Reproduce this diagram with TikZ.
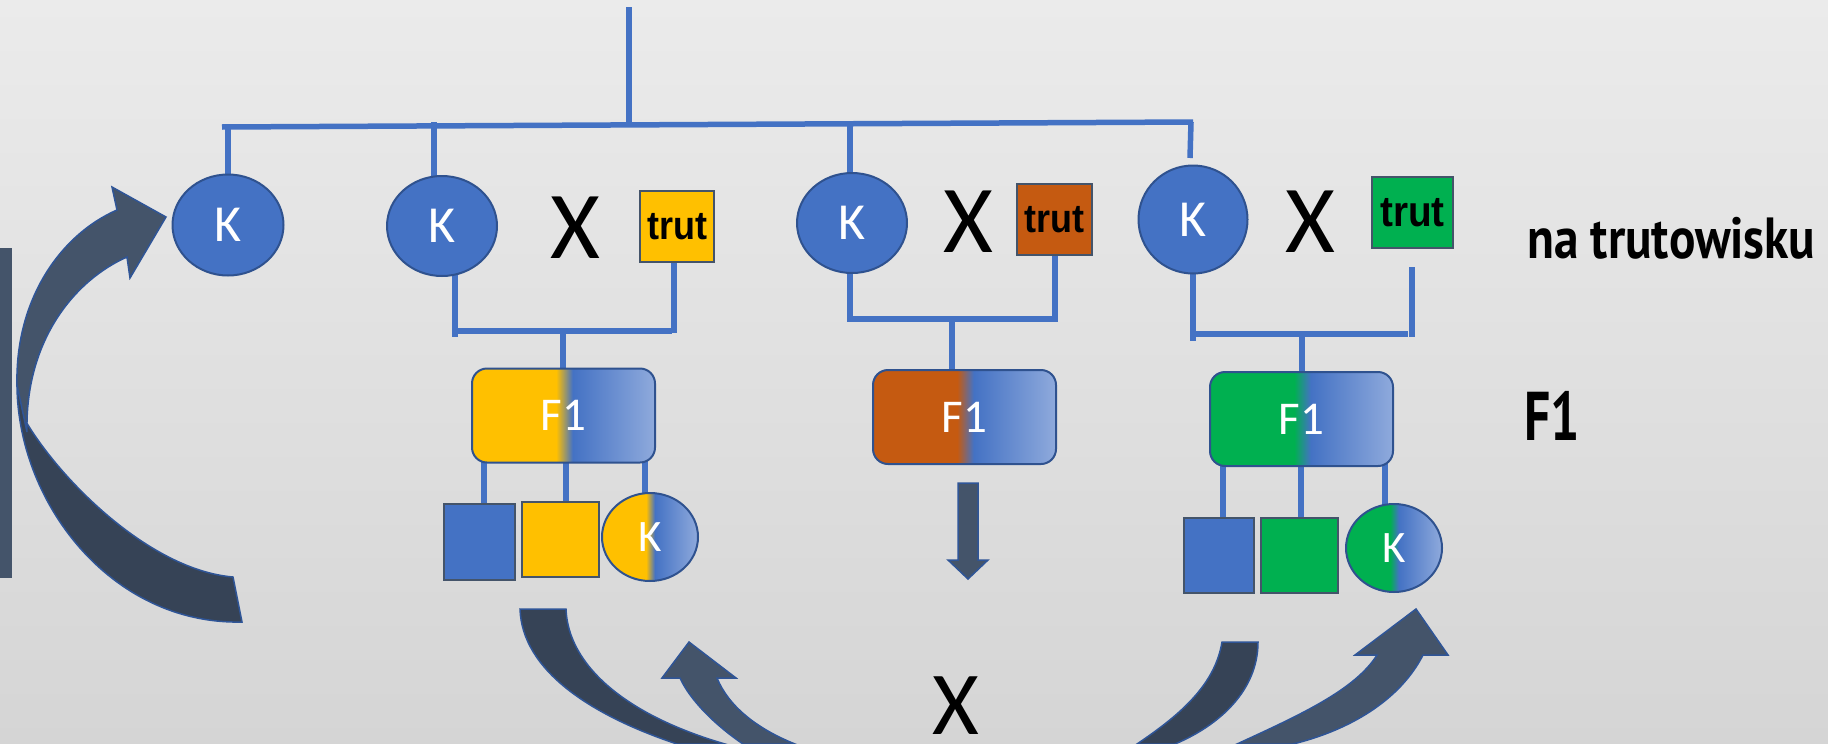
\documentclass[tikz,border=0pt]{standalone}
\usepackage{fontspec}
\setmainfont{Carlito}
\newfontfamily\trutfont[FakeStretch=0.9]{Liberation Sans}
\newfontfamily\dinfont[FakeStretch=0.85]{PT Sans}
\newfontfamily\dinfontF[FakeStretch=0.75]{PT Sans}
\usetikzlibrary{shapes.geometric}
\definecolor{mblue}{HTML}{4472C4}
\definecolor{edgeblue}{HTML}{2F528F}
\definecolor{sqedge}{HTML}{44546A}
\definecolor{cY}{HTML}{FFC000}
\definecolor{cBr}{HTML}{C55A11}
\definecolor{cG}{HTML}{00B050}
\definecolor{cL}{HTML}{8FAADC}
\definecolor{arrowcol}{HTML}{44546A}
\definecolor{darkband}{HTML}{364356}
\definecolor{arrowedge}{HTML}{2F5597}
\definecolor{bgtop}{HTML}{EBEBEB}
\definecolor{bgbot}{HTML}{D5D5D5}
\pgfdeclarelayer{bglayer}
\pgfdeclarelayer{connlayer}
\pgfsetlayers{bglayer,connlayer,main}
\pgfdeclarehorizontalshading{shY}{100bp}{color(0bp)=(cY); color(48bp)=(cY); color(52.5bp)=(mblue); color(75bp)=(cL); color(100bp)=(cL)}
\pgfdeclarehorizontalshading{shBr}{100bp}{color(0bp)=(cBr); color(48bp)=(cBr); color(52.5bp)=(mblue); color(75bp)=(cL); color(100bp)=(cL)}
\pgfdeclarehorizontalshading{shG}{100bp}{color(0bp)=(cG); color(48bp)=(cG); color(52.5bp)=(mblue); color(75bp)=(cL); color(100bp)=(cL)}
\begin{document}
\begin{tikzpicture}[x=1pt,y=-1pt,
  conn/.style={draw=mblue, line width=5.5pt},
  kbox/.style={ellipse, draw=edgeblue, line width=2pt, fill=mblue, text=white, inner sep=0pt, font=\fontsize{52}{60}\selectfont},
  kchild/.style={ellipse, draw=edgeblue, line width=2pt, text=white, inner sep=0pt, minimum width=96pt, minimum height=88pt, font=\fontsize{45}{50}\selectfont},
  trutbox/.style={rectangle, draw=sqedge, line width=2pt, inner sep=0pt, minimum height=71pt, font=\trutfont\bfseries\fontsize{40}{45}\selectfont},
  f1box/.style={rectangle, rounded corners=15pt, draw=edgeblue, line width=2pt, inner sep=0pt, minimum width=183pt, minimum height=94pt, text=white, font=\fontsize{47}{55}\selectfont},
  sq/.style={rectangle, draw=sqedge, line width=2pt, inner sep=0pt, minimum height=75pt},
  bigx/.style={inner sep=0pt, font=\fontsize{96}{100}\selectfont},
  arrowlight/.style={fill=arrowcol, draw=arrowedge, line width=1.5pt},
  arrowdark/.style={fill=darkband, draw=arrowedge, line width=1.5pt},
  lab/.style={anchor=base west, inner sep=0pt}
]
\useasboundingbox (0,0) rectangle (1828,744);
\begin{pgfonlayer}{bglayer}
\shade[top color=bgtop, bottom color=bgbot] (0,0) rectangle (1828,744);
\end{pgfonlayer}

% parents
\node[kbox, minimum width=111pt, minimum height=101pt] (K1) at (228,225) {K};
\node[kbox, minimum width=110pt, minimum height=100pt] (K2) at (442,226) {K};
\node[kbox, minimum width=110pt, minimum height=100pt] (K3) at (852,223) {K};
\node[kbox, minimum width=109pt, minimum height=108pt] (K4) at (1193,219.5) {K};
\node[bigx] (X1) at (575,228) {X};
\node[bigx] (X2) at (968,222) {X};
\node[bigx] (X3) at (1310,222) {X};
\node[trutbox, fill=cY, minimum width=74pt] (T1) at (677,226.5) {trut};
\node[trutbox, fill=cBr, minimum width=75pt] (T2) at (1054.5,219.5) {trut};
\node[trutbox, fill=cG, minimum width=81pt, font=\trutfont\bfseries\fontsize{43}{48}\selectfont] (T3) at (1412.5,212.5) {trut};

% F1
\node[f1box, shade, shading=shY] (FA) at (563.5,415.5) {F1};
\node[f1box, shade, shading=shBr] (FB) at (964.5,417) {F1};
\node[f1box, shade, shading=shG] (FC) at (1301.5,419) {F1};

% children
\node[sq, fill=mblue, minimum width=71pt, minimum height=76pt] (A1) at (479.5,542) {};
\node[sq, fill=cY, minimum width=77pt] (A2) at (560.5,539.5) {};
\node[kchild, shade, shading=shY] (A3) at (650,537) {K};
\node[sq, fill=mblue, minimum width=70pt] (C1) at (1219,555.5) {};
\node[sq, fill=cG, minimum width=77pt] (C2) at (1299.5,555.5) {};
\node[kchild, shade, shading=shG] (C3) at (1394,548) {K};

% labels
\node[lab, font=\dinfont\bfseries\fontsize{58}{60}\selectfont] (L1) at (1527,258) {na trutowisku};
\node[lab, font=\dinfontF\bfseries\fontsize{69}{72}\selectfont] (L2) at (1524,440) {F1};
\node[inner sep=0pt, font=\fontsize{90}{100}\selectfont] (X4) at (956,706) {X};

% connectors
\coordinate (top) at (629,7);
\coordinate (hub) at (629,125);
\coordinate (hl) at (222,127);
\coordinate (hr) at (1193,122);
\coordinate (d1) at (228,127);
\coordinate (d2) at (434,122);
\coordinate (d3) at (850,124);
\coordinate (d4) at (1191,122);
\coordinate (d4e) at (1190,158);
\coordinate (a1) at (455,337);
\coordinate (a2) at (674,333);
\coordinate (ah1) at (452,331);
\coordinate (ah2) at (672,331);
\coordinate (ja) at (563,331);
\coordinate (b1) at (850,320);
\coordinate (b2) at (1055,320);
\coordinate (bh1) at (847,319);
\coordinate (bh2) at (1058,319);
\coordinate (jb) at (952,322);
\coordinate (c1) at (1193,341);
\coordinate (c2s) at (1412,267);
\coordinate (c2) at (1412,337);
\coordinate (ch1) at (1190,334);
\coordinate (ch2) at (1408,334);
\coordinate (jc) at (1302,334);
\coordinate (xa1) at (484,0);
\coordinate (xa2) at (566,0);
\coordinate (xa3) at (645,0);
\coordinate (xc1) at (1223,0);
\coordinate (xc2) at (1301,0);
\coordinate (xc3) at (1385,0);
\begin{pgfonlayer}{connlayer}
\draw[conn] (top) -- (hub);
\draw[conn] (hl) -- (hr);
\draw[conn] (d1) -- (K1.center);
\draw[conn] (d2) -- (d2 |- K2.center);
\draw[conn] (d3) -- (d3 |- K3.center);
\draw[conn] (d4) -- (d4e);
\draw[conn] (a1 |- K2.center) -- (a1);
\draw[conn] (a2 |- T1.center) -- (a2);
\draw[conn] (ah1) -- (ah2);
\draw[conn] (ja) -- (ja |- FA.center);
\draw[conn] (b1 |- K3.center) -- (b1);
\draw[conn] (b2 |- T2.center) -- (b2);
\draw[conn] (bh1) -- (bh2);
\draw[conn] (jb) -- (jb |- FB.center);
\draw[conn] (c1 |- K4.center) -- (c1);
\draw[conn] (c2s) -- (c2);
\draw[conn] (ch1) -- (ch2);
\draw[conn] (jc) -- (jc |- FC.center);
\draw[conn] (FA.center -| xa1) -- (A1.center -| xa1);
\draw[conn] (FA.center -| xa2) -- (A2.center -| xa2);
\draw[conn] (FA.center -| xa3) -- (A3.center -| xa3);
\draw[conn] (FC.center -| xc1) -- (C1.center -| xc1);
\draw[conn] (FC.center -| xc2) -- (C2.center -| xc2);
\draw[conn] (FC.center -| xc3) -- (C3.center -| xc3);
\end{pgfonlayer}

% arrows
\begin{scope}
\clip (0,0) rectangle (1828,744);
\fill[arrowcol] (0,248) rectangle (12,578);
% left circular arrow
\draw[arrowdark] (17,380) .. controls (15,500) and (110,625) .. (242,622) -- (233,577) .. controls (150,570) and (60,480) .. (25,420) -- cycle;
\draw[arrowlight] (27,432) .. controls (25,340) and (75,280) .. (127,257) -- (130,278) -- (166,217) -- (112,187) -- (117,210) .. controls (60,235) and (15,300) .. (17,385) -- cycle;
% down arrow
\draw[arrowlight] (958,483) -- (978,483) -- (978,560) -- (988,560) -- (968,579) -- (948,560) -- (958,560) -- cycle;
% bottom left
\draw[arrowdark] (520,609) -- (566,609) .. controls (568,665) and (625,715) .. (725,744) -- (677,744) .. controls (590,715) and (522,670) .. (520,609) -- cycle;
\draw[arrowlight] (689,642) -- (736,678) -- (717,678) .. controls (728,705) and (755,728) .. (795,744) -- (743,744) .. controls (715,725) and (690,700) .. (680,678) -- (662,678) -- cycle;
% bottom right
\draw[arrowdark] (1222,642) -- (1258,642) .. controls (1258,690) and (1220,725) .. (1175,744) -- (1137,744) .. controls (1180,715) and (1215,685) .. (1222,642) -- cycle;
\draw[arrowlight] (1416,609) -- (1448,655) -- (1423,655) .. controls (1400,700) and (1350,730) .. (1293,744) -- (1237,744) .. controls (1300,715) and (1355,690) .. (1377,655) -- (1355,655) -- cycle;
\end{scope}
\end{tikzpicture}
\end{document}
